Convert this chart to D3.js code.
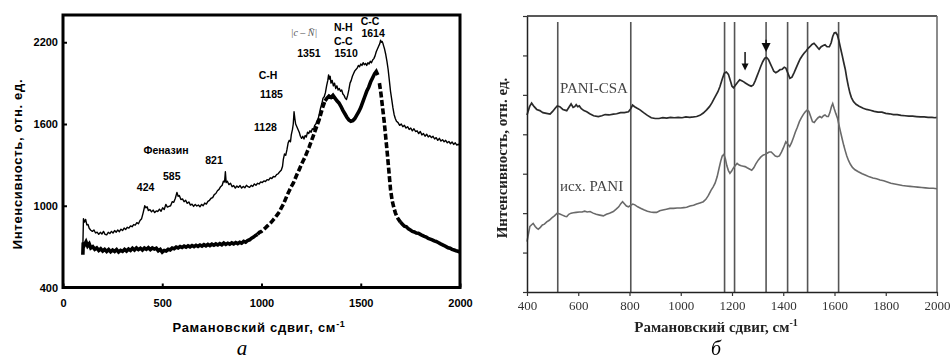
<html>
<head>
<meta charset="utf-8">
<script src="https://cdnjs.cloudflare.com/ajax/libs/d3/7.8.5/d3.min.js"></script>
<style>
  body { margin: 0; background: #fff; }
  .sans { font-family: "Liberation Sans", Arial, sans-serif; font-weight: bold; }
  .serif { font-family: "Liberation Serif", "Times New Roman", serif; }
</style>
</head>
<body>
<svg id="fig" width="952" height="360">
  <defs>
    <filter id="soft" x="-5%" y="-5%" width="110%" height="110%">
      <feGaussianBlur stdDeviation="0.45" />
    </filter>
  </defs>
</svg>
<script>

// ---- panel a : two Raman spectra (cm-1, counts) ----
var specThin = [[100,700],[103,905],[108,880],[114,900],[120,860],[126,862],[132,835],[140,820],[148,812],[156,822],[164,800],[172,806],[180,790],[188,805],[196,792],[204,812],[212,790],[220,786],[228,805],[236,796],[244,812],[252,800],[260,818],[268,806],[276,822],[284,810],[292,828],[300,818],[308,836],[316,826],[324,842],[332,836],[340,852],[348,846],[356,862],[364,858],[372,876],[380,868],[388,892],[396,905],[404,950],[412,1000],[418,985],[424,992],[430,965],[438,972],[446,955],[454,968],[462,950],[470,962],[478,958],[486,975],[494,960],[502,985],[510,972],[518,1010],[526,990],[534,995],[542,1000],[550,1030],[558,1025],[566,1055],[574,1098],[580,1070],[586,1075],[594,1045],[602,1050],[610,1030],[618,1040],[626,1018],[634,1028],[642,1005],[650,1012],[658,995],[666,1010],[674,998],[682,1005],[690,992],[698,1010],[706,1000],[714,1020],[722,1012],[730,1032],[738,1040],[746,1055],[754,1060],[762,1082],[770,1090],[778,1110],[786,1120],[794,1140],[802,1150],[808,1180],[814,1175],[818,1250],[822,1170],[828,1180],[836,1155],[844,1165],[852,1140],[860,1148],[868,1130],[876,1145],[884,1135],[892,1148],[900,1130],[908,1142],[916,1132],[924,1150],[932,1140],[940,1135],[948,1150],[956,1142],[964,1160],[972,1150],[980,1165],[988,1160],[996,1175],[1004,1170],[1012,1182],[1020,1178],[1028,1192],[1036,1188],[1044,1205],[1052,1200],[1060,1215],[1068,1212],[1076,1228],[1084,1235],[1092,1250],[1100,1262],[1106,1290],[1110,1340],[1116,1380],[1122,1370],[1128,1410],[1134,1460],[1140,1480],[1146,1470],[1150,1520],[1156,1560],[1160,1600],[1164,1690],[1168,1640],[1172,1600],[1178,1580],[1184,1560],[1190,1540],[1196,1510],[1202,1495],[1208,1510],[1214,1490],[1220,1515],[1226,1505],[1232,1540],[1238,1530],[1244,1550],[1250,1540],[1256,1565],[1262,1560],[1268,1590],[1274,1600],[1280,1625],[1286,1640],[1292,1680],[1298,1720],[1304,1750],[1310,1790],[1316,1800],[1322,1830],[1328,1880],[1334,1920],[1338,1960],[1342,1930],[1346,1950],[1350,1900],[1356,1920],[1362,1880],[1368,1900],[1374,1860],[1380,1880],[1386,1850],[1392,1860],[1398,1840],[1404,1850],[1410,1820],[1416,1810],[1422,1790],[1428,1780],[1434,1810],[1440,1850],[1446,1900],[1452,1920],[1458,1950],[1464,1970],[1470,1990],[1476,2000],[1482,2010],[1488,2030],[1494,2020],[1500,2040],[1506,2030],[1512,2050],[1518,2035],[1524,2045],[1530,2030],[1536,2050],[1542,2040],[1548,2060],[1554,2050],[1560,2070],[1566,2080],[1572,2100],[1578,2130],[1584,2150],[1590,2170],[1596,2190],[1600,2215],[1604,2200],[1608,2205],[1612,2190],[1616,2170],[1620,2150],[1626,2110],[1632,2060],[1638,2000],[1644,1920],[1650,1840],[1656,1780],[1662,1720],[1668,1670],[1674,1640],[1680,1620],[1688,1610],[1696,1590],[1704,1600],[1712,1580],[1720,1590],[1728,1570],[1736,1580],[1744,1560],[1752,1570],[1760,1550],[1768,1565],[1776,1545],[1784,1550],[1792,1530],[1800,1545],[1808,1520],[1816,1530],[1824,1510],[1832,1525],[1840,1505],[1848,1515],[1856,1500],[1864,1510],[1872,1490],[1880,1500],[1888,1480],[1896,1495],[1904,1475],[1912,1485],[1920,1470],[1928,1480],[1936,1462],[1944,1472],[1952,1455],[1960,1468],[1968,1450],[1976,1462],[1984,1445],[1992,1452],[2000,1440]]

var specThick = [[100,640],[102,730],[108,712],[116,735],[124,705],[132,720],[140,690],[150,700],[160,680],[170,690],[180,672],[190,684],[200,668],[210,680],[220,665],[230,678],[240,662],[250,675],[260,665],[270,678],[280,660],[290,672],[300,665],[310,680],[320,668],[330,682],[340,672],[350,688],[360,675],[370,690],[380,678],[390,688],[400,675],[410,690],[420,680],[430,692],[440,678],[450,690],[460,682],[470,688],[480,670],[490,680],[500,660],[510,672],[520,668],[530,680],[540,676],[550,690],[560,685],[570,696],[580,690],[590,700],[600,694],[610,704],[620,696],[630,706],[640,698],[650,708],[660,700],[670,710],[680,702],[690,712],[700,704],[710,714],[720,706],[730,716],[740,708],[750,718],[760,710],[770,720],[780,712],[790,722],[800,714],[810,726],[820,716],[830,725],[840,718],[850,728],[860,720],[870,730],[880,722],[890,732],[900,725],[910,738],[920,732],[930,745],[940,750],[950,762],[960,770],[970,782],[980,790],[990,805],[1000,812],[1010,825],[1020,838],[1030,852],[1040,866],[1050,880],[1060,898],[1070,915],[1080,935],[1090,955],[1100,985],[1110,1010],[1120,1045],[1130,1080],[1140,1110],[1150,1140],[1160,1165],[1170,1200],[1180,1235],[1190,1265],[1200,1300],[1210,1330],[1220,1360],[1230,1395],[1240,1430],[1250,1470],[1260,1510],[1270,1550],[1280,1590],[1290,1630],[1300,1680],[1310,1730],[1320,1770],[1330,1790],[1340,1805],[1350,1795],[1360,1810],[1370,1790],[1380,1770],[1390,1755],[1400,1730],[1410,1700],[1420,1675],[1430,1650],[1440,1630],[1450,1620],[1460,1625],[1470,1640],[1480,1665],[1490,1690],[1500,1720],[1510,1760],[1520,1800],[1530,1840],[1540,1870],[1550,1910],[1560,1940],[1570,1970],[1578,1985],[1586,1960],[1594,1900],[1602,1820],[1610,1720],[1618,1620],[1626,1500],[1634,1380],[1642,1250],[1650,1120],[1658,1040],[1666,990],[1674,950],[1682,920],[1690,900],[1700,880],[1710,865],[1720,850],[1730,845],[1740,830],[1750,822],[1760,812],[1770,808],[1780,800],[1790,798],[1800,790],[1810,782],[1820,775],[1830,770],[1840,760],[1850,755],[1860,750],[1870,742],[1880,738],[1890,730],[1900,722],[1910,715],[1920,708],[1930,700],[1940,692],[1950,688],[1960,680],[1970,675],[1980,670],[1990,666],[2000,660]]

// steep parts of the thick spectrum are drawn broken
var thickDashedRanges = [[980,1320],[1590,1700]]

var aTicksX = [0,500,1000,1500,2000]
var aTicksY = [400,1000,1600,2200]

// band labels: text, shift (cm-1), height (counts)
var aBands = [
  ["Феназин",519,1410],["424",416,1133],["585",548,1219],["821",761,1332],
  ["1128",1020,1574],["C-H",1033,1955],["1185",1050,1820],
  ["1351",1239,2122],["N-H",1412,2313],["C-C",1412,2207],["1510",1426,2117],
  ["C-C",1547,2354],["1614",1562,2269]
]

// ---- panel б : PANI spectra (arb. units) ----
var paniCsa = [[400,4.49],[410,4.70],[418,4.79],[428,4.70],[438,4.63],[450,4.60],[462,4.55],[476,4.53],[490,4.51],[500,4.58],[510,4.66],[518,4.72],[528,4.70],[540,4.63],[555,4.60],[565,4.70],[572,4.77],[580,4.68],[586,4.70],[592,4.75],[598,4.70],[604,4.72],[612,4.65],[622,4.60],[633,4.57],[645,4.52],[660,4.47],[678,4.45],[692,4.47],[705,4.50],[720,4.49],[737,4.51],[750,4.52],[765,4.55],[780,4.55],[796,4.57],[805,4.65],[812,4.74],[820,4.70],[830,4.66],[841,4.62],[855,4.55],[870,4.48],[885,4.42],[900,4.40],[915,4.40],[930,4.42],[945,4.41],[960,4.43],[975,4.42],[990,4.43],[1005,4.42],[1020,4.44],[1035,4.43],[1050,4.44],[1062,4.45],[1075,4.48],[1088,4.54],[1101,4.62],[1112,4.70],[1121,4.79],[1135,4.96],[1145,5.08],[1153,5.21],[1162,5.40],[1170,5.55],[1178,5.58],[1186,5.52],[1194,5.35],[1200,5.22],[1206,5.18],[1214,5.25],[1222,5.32],[1230,5.38],[1238,5.36],[1246,5.33],[1252,5.30],[1260,5.27],[1268,5.24],[1275,5.22],[1283,5.25],[1290,5.35],[1298,5.48],[1305,5.60],[1312,5.72],[1320,5.84],[1328,5.93],[1335,5.95],[1342,5.90],[1349,5.80],[1356,5.70],[1363,5.60],[1371,5.56],[1380,5.60],[1388,5.64],[1396,5.65],[1404,5.70],[1410,5.68],[1418,5.55],[1426,5.42],[1434,5.45],[1442,5.56],[1450,5.68],[1458,5.80],[1466,5.91],[1474,5.99],[1482,6.06],[1490,6.12],[1497,6.18],[1504,6.22],[1512,6.28],[1520,6.31],[1527,6.26],[1534,6.20],[1540,6.16],[1548,6.22],[1556,6.25],[1563,6.27],[1571,6.22],[1580,6.22],[1587,6.32],[1593,6.48],[1599,6.57],[1605,6.58],[1611,6.52],[1617,6.38],[1623,6.20],[1630,6.00],[1636,5.82],[1642,5.65],[1648,5.42],[1654,5.22],[1660,5.05],[1666,4.93],[1674,4.83],[1684,4.76],[1696,4.71],[1712,4.66],[1725,4.63],[1740,4.61],[1755,4.58],[1770,4.56],[1785,4.56],[1800,4.53],[1815,4.52],[1830,4.50],[1845,4.50],[1860,4.48],[1875,4.47],[1890,4.46],[1905,4.46],[1920,4.45],[1935,4.44],[1950,4.44],[1965,4.43],[1980,4.43],[1992,4.42],[2000,4.43]]

var paniBase = [[400,1.28],[405,1.45],[411,1.66],[417,1.70],[424,1.74],[432,1.66],[438,1.62],[444,1.59],[452,1.64],[460,1.70],[468,1.72],[477,1.78],[487,1.82],[497,1.88],[507,1.93],[518,2.00],[528,1.98],[538,1.95],[548,1.92],[555,1.91],[563,1.97],[572,2.00],[581,2.01],[592,2.02],[604,2.03],[615,2.03],[625,2.05],[635,2.03],[646,2.04],[658,2.00],[670,1.97],[684,1.95],[698,1.93],[710,1.97],[722,2.00],[737,2.04],[748,2.10],[758,2.16],[766,2.24],[773,2.29],[780,2.24],[788,2.18],[796,2.16],[805,2.20],[813,2.23],[821,2.21],[832,2.16],[845,2.12],[858,2.08],[870,2.05],[882,2.03],[894,2.02],[906,2.02],[918,2.06],[930,2.08],[944,2.10],[958,2.12],[972,2.12],[986,2.13],[1000,2.13],[1012,2.14],[1023,2.15],[1036,2.18],[1050,2.20],[1062,2.23],[1075,2.26],[1088,2.29],[1098,2.35],[1108,2.45],[1118,2.58],[1126,2.66],[1134,2.76],[1142,2.92],[1150,3.15],[1156,3.32],[1162,3.45],[1168,3.49],[1174,3.38],[1180,3.20],[1186,3.08],[1192,3.01],[1198,3.06],[1205,3.14],[1212,3.20],[1220,3.26],[1228,3.22],[1236,3.20],[1244,3.19],[1251,3.18],[1259,3.15],[1268,3.12],[1277,3.09],[1285,3.15],[1293,3.25],[1303,3.35],[1312,3.42],[1321,3.47],[1329,3.49],[1337,3.52],[1345,3.55],[1353,3.55],[1361,3.50],[1369,3.45],[1377,3.43],[1385,3.45],[1393,3.55],[1401,3.66],[1410,3.81],[1418,3.75],[1425,3.69],[1432,3.78],[1440,3.92],[1447,4.05],[1455,4.18],[1463,4.32],[1471,4.42],[1478,4.50],[1486,4.57],[1494,4.62],[1500,4.58],[1507,4.45],[1514,4.32],[1521,4.30],[1528,4.36],[1536,4.42],[1543,4.45],[1550,4.42],[1557,4.47],[1563,4.49],[1570,4.45],[1576,4.45],[1582,4.55],[1588,4.70],[1593,4.78],[1599,4.65],[1605,4.53],[1612,4.40],[1618,4.22],[1624,4.05],[1630,3.88],[1636,3.72],[1642,3.58],[1648,3.45],[1655,3.33],[1662,3.24],[1670,3.16],[1680,3.10],[1693,3.05],[1708,3.00],[1722,2.96],[1736,2.92],[1750,2.89],[1764,2.87],[1778,2.84],[1792,2.82],[1806,2.79],[1820,2.76],[1835,2.74],[1850,2.72],[1865,2.70],[1880,2.69],[1895,2.68],[1910,2.67],[1925,2.66],[1940,2.65],[1955,2.64],[1970,2.63],[1985,2.63],[2000,2.62]]

var bTicksX = [400,600,800,1000,1200,1400,1600,1800,2000]
var bTicksY = [0,1,2,3,4,5,6,7]
var bMarkers = [520,805,1171,1210,1333,1417,1495,1616]
// arrows: position, top, bottom, head size
var bArrows = [[1251,6.09,5.62,7],[1333,6.40,6.09,9]]
var bSeriesNames = [["PANI-CSA",529,5.05],["исх. PANI",529,2.56]]

var svg = d3.select("#fig")

function specLine(xs, ys) {
	return d3.line().x(d => xs(d[0])).y(d => ys(d[1]))
}

// ================= panel a =================
var ax = d3.scaleLinear().domain([0,2000]).range([63,460])
var ay = d3.scaleLinear().domain([400,2400]).range([287.5,15])
var ga = svg.append("g")

ga.append("path")
  .attr("d", specLine(ax, ay)(specThin))
  .attr("fill","none").attr("stroke","#000").attr("stroke-width",1.4)
  .attr("stroke-linejoin","round")

function inDashed(v) {
	return thickDashedRanges.some(r => v > r[0] && v < r[1])
}
// solid parts, then the broken parts of the same series
ga.append("path")
  .attr("d", specLine(ax, ay).defined(d => !inDashed(d[0]))(specThick))
  .attr("fill","none").attr("stroke","#000").attr("stroke-width",3.6)
thickDashedRanges.forEach(r => {
	ga.append("path")
	  .attr("d", specLine(ax, ay)(specThick.filter(d => d[0] >= r[0] && d[0] <= r[1])))
	  .attr("fill","none").attr("stroke","#000").attr("stroke-width",3.6)
	  .attr("stroke-dasharray","6,2.5")
})

// frame
ga.append("rect").attr("x",ax(0)).attr("y",ay(2400))
  .attr("width",ax(2000)-ax(0)).attr("height",ay(400)-ay(2400))
  .attr("fill","none").attr("stroke","#000").attr("stroke-width",3)

var axA = ga.append("g").attr("transform","translate(0,"+ay(400)+")")
  .call(d3.axisBottom(ax).tickValues(aTicksX).tickSize(-4).tickPadding(12).tickFormat(d3.format("d")))
var ayA = ga.append("g").attr("transform","translate("+ax(0)+",0)")
  .call(d3.axisLeft(ay).tickValues(aTicksY).tickSize(-4).tickPadding(5).tickFormat(d3.format("d")))
;[axA, ayA].forEach(g => {
	g.select(".domain").remove()
	g.selectAll("line").attr("stroke","#000").attr("stroke-width",2)
	g.selectAll("text").attr("font-size",11).attr("fill","#000")
	  .style("font-family",'"Liberation Sans", Arial, sans-serif').style("font-weight","bold")
})

ga.selectAll("text.band").data(aBands).enter().append("text")
  .attr("class","sans band")
  .attr("x", d => ax(d[1])).attr("y", d => ay(d[2]))
  .attr("dy","0.35em").attr("text-anchor","middle")
  .attr("font-size",10.5).text(d => d[0])

// radical cation bond label above 1351
ga.append("text").attr("class","serif")
  .attr("x", ax(1214)).attr("y", ay(2269)).attr("dy","0.35em")
  .attr("text-anchor","middle").attr("font-size",10).attr("font-style","italic")
  .attr("fill","#555").text("|c – N̄|")

ga.append("text").attr("class","sans")
  .attr("transform","translate(22,164) rotate(-90)")
  .attr("text-anchor","middle").attr("font-size",13).attr("letter-spacing",0.7)
  .text("Интенсивность, отн. ед.")
var xtA = ga.append("text").attr("class","sans")
  .attr("x",259).attr("y",332).attr("text-anchor","middle")
  .attr("font-size",13).attr("letter-spacing",0.7)
xtA.append("tspan").text("Рамановский сдвиг, см")
xtA.append("tspan").attr("dy",-5).attr("font-size",9).text("-1")

ga.append("text").attr("class","serif")
  .attr("x",242).attr("y",355).attr("text-anchor","middle")
  .attr("font-size",21).attr("font-style","italic").text("а")

// ================= panel б =================
var bx = d3.scaleLinear().domain([400,2000]).range([527,937])
var by = d3.scaleLinear().domain([0,7]).range([292,16])
var gb = svg.append("g").attr("filter","url(#soft)")

// band position markers
gb.selectAll("line.mark").data(bMarkers).enter().append("line")
  .attr("class","mark")
  .attr("x1", d => bx(d)).attr("x2", d => bx(d))
  .attr("y1", by(6.85)).attr("y2", by(0))
  .attr("stroke","#555").attr("stroke-width",1.6)

gb.append("path").attr("d", specLine(bx, by)(paniBase))
  .attr("fill","none").attr("stroke","#6a6a6a").attr("stroke-width",1.6)
gb.append("path").attr("d", specLine(bx, by)(paniCsa))
  .attr("fill","none").attr("stroke","#2a2a2a").attr("stroke-width",1.7)

// frame: dark top, lighter right
gb.append("line").attr("x1",bx(400)).attr("x2",bx(2000)).attr("y1",by(7)).attr("y2",by(7))
  .attr("stroke","#222").attr("stroke-width",1.3)
gb.append("line").attr("x1",bx(2000)).attr("x2",bx(2000)).attr("y1",by(7)).attr("y2",by(0))
  .attr("stroke","#666").attr("stroke-width",1.5)

var axB = gb.append("g").attr("transform","translate(0,"+by(0)+")")
  .call(d3.axisBottom(bx).tickValues(bTicksX).tickSize(4).tickSizeOuter(0).tickPadding(5).tickFormat(d3.format("d")))
var ayB = gb.append("g").attr("transform","translate("+bx(400)+",0)")
  .call(d3.axisLeft(by).tickValues(bTicksY).tickSize(4).tickSizeOuter(0).tickFormat(""))
;[axB, ayB].forEach(g => {
	g.select(".domain").attr("stroke","#222").attr("stroke-width",1.5)
	g.selectAll("line").attr("stroke","#333").attr("stroke-width",1.2)
	g.selectAll("text").attr("fill","#333").attr("font-size",13)
	  .style("font-family",'"Liberation Serif", "Times New Roman", serif')
})

// arrows over the 1251 and 1333 bands
bArrows.forEach(a => {
	var x = bx(a[0]), y0 = by(a[1]), y1 = by(a[2]), h = a[3]
	gb.append("line").attr("x1",x).attr("x2",x).attr("y1",y0).attr("y2",y1-h*0.6)
	  .attr("stroke","#111").attr("stroke-width",1.5)
	gb.append("path")
	  .attr("d","M"+(x-h/2)+","+(y1-h)+"L"+(x+h/2)+","+(y1-h)+"L"+x+","+y1+"Z")
	  .attr("fill","#111")
})

gb.selectAll("text.sname").data(bSeriesNames).enter().append("text")
  .attr("class","serif sname")
  .attr("x", d => bx(d[1])).attr("y", d => by(d[2]))
  .attr("font-size",15).attr("fill","#444").text(d => d[0])

gb.append("text").attr("class","serif")
  .attr("transform","translate(507,158) rotate(-90)")
  .attr("text-anchor","middle").attr("font-size",15).attr("font-weight","bold")
  .attr("fill","#222").text("Интенсивность, отн. ед.")
var xtB = gb.append("text").attr("class","serif")
  .attr("x",716).attr("y",332).attr("text-anchor","middle")
  .attr("font-size",15).attr("font-weight","bold").attr("fill","#222")
xtB.append("tspan").text("Рамановский сдвиг, см")
xtB.append("tspan").attr("dy",-6).attr("font-size",10).text("-1")

gb.append("text").attr("class","serif")
  .attr("x",716).attr("y",355).attr("text-anchor","middle")
  .attr("font-size",20).attr("font-style","italic").text("б")

</script>
</body>
</html>
